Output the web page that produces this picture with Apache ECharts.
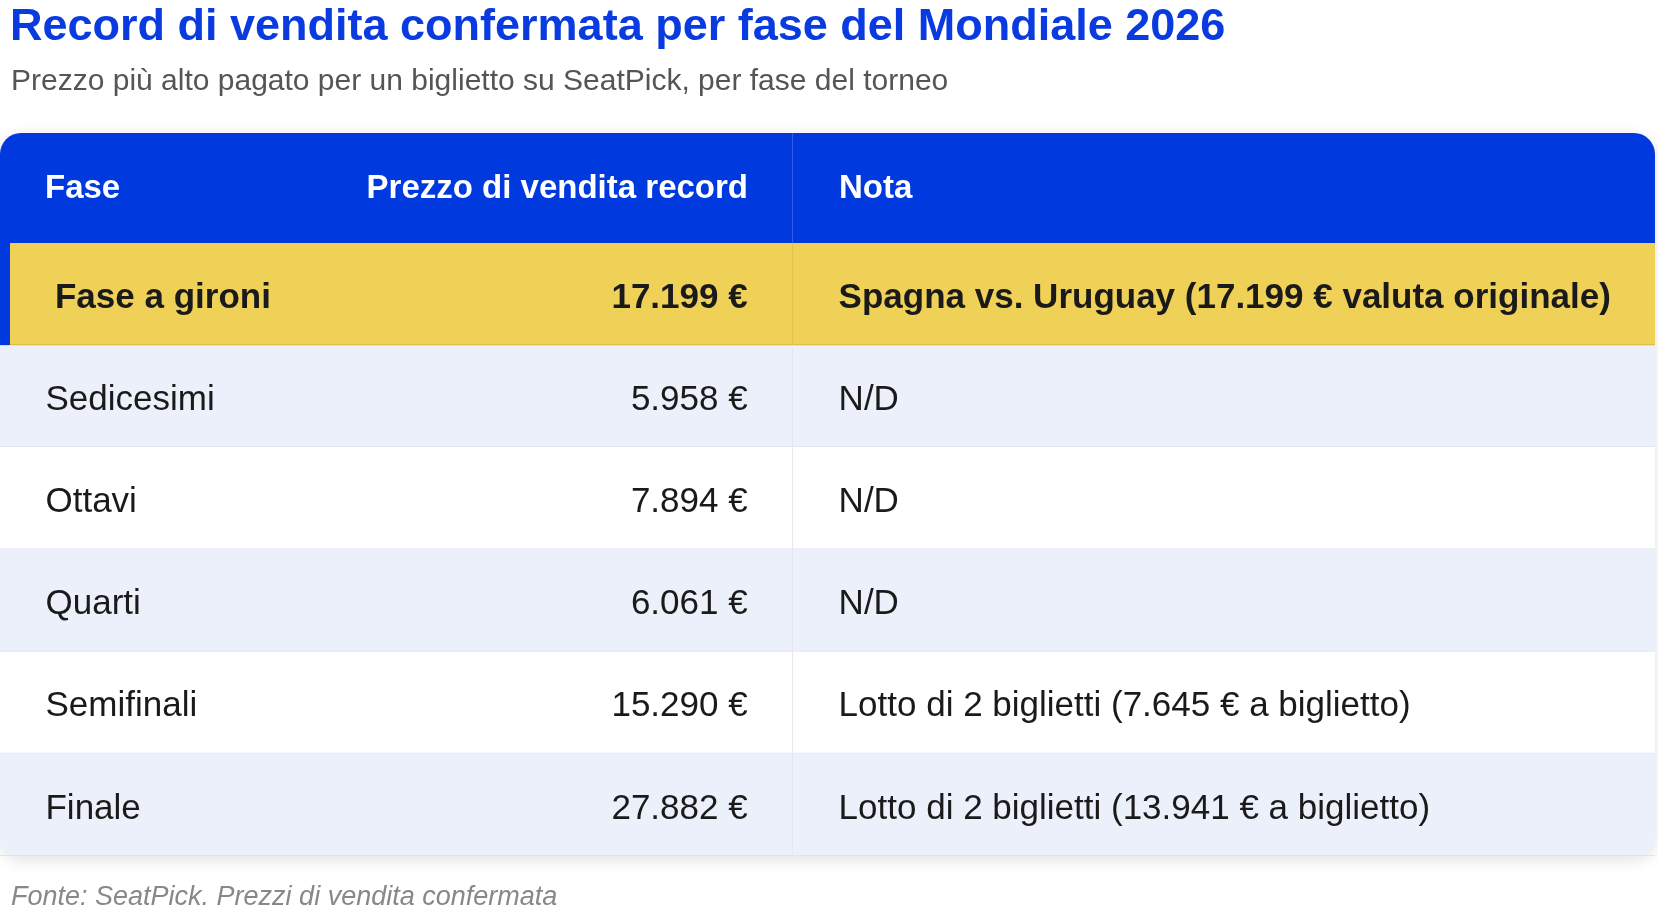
<!DOCTYPE html>
<html><head><meta charset="utf-8">
<script src="https://cdn.jsdelivr.net/npm/echarts@6/dist/echarts.min.js"></script>
<style>html,body{margin:0;padding:0;background:#fff}#c{width:1658px;height:913px}</style>
</head><body><div id="c"></div>
<script>
const headers = ['Fase', 'Prezzo di vendita record', 'Nota'];
const phases = ['Fase a gironi', 'Sedicesimi', 'Ottavi', 'Quarti', 'Semifinali', 'Finale'];
const prices = ['17.199 €', '5.958 €', '7.894 €', '6.061 €', '15.290 €', '27.882 €'];
const notes = ['Spagna vs. Uruguay (17.199 € valuta originale)', 'N/D', 'N/D', 'N/D',
  'Lotto di 2 biglietti (7.645 € a biglietto)', 'Lotto di 2 biglietti (13.941 € a biglietto)'];
const highlightIndex = 0;

const S = 1658 / 1568;
const s = v => Math.round(v * S);
const FONT = 'Liberation Sans, Arial, sans-serif';
const TW = 1565;
const chart = echarts.init(document.getElementById('c'));
chart.setOption({
  backgroundColor: '#fff',
  animation: false,
  title: [
    {text: 'Record di vendita confermata per fase del Mondiale 2026', left: s(5), top: s(0),
     textStyle: {fontFamily: FONT, fontSize: s(42.6), fontWeight: 'bold', color: '#0a3be0'}},
    {text: 'Prezzo più alto pagato per un biglietto su SeatPick, per fase del torneo', left: s(6), top: s(59),
     textStyle: {fontFamily: FONT, fontSize: s(28.3), fontWeight: 'normal', color: '#555'}},
    {text: 'Fonte: SeatPick. Prezzi di vendita confermata', left: s(6), top: s(831),
     textStyle: {fontFamily: FONT, fontSize: s(25.7), fontWeight: 'normal', fontStyle: 'italic', color: '#888'}}
  ],
  graphic: [
    {type: 'rect', left: 0, top: s(126), z: 0, shape: {width: s(TW), height: s(684), r: s(20)},
     style: {fill: '#fff', shadowBlur: 16, shadowColor: 'rgba(0,0,0,0.12)', shadowOffsetY: 4}},
    {type: 'rect', left: 0, top: s(126), z: 1, shape: {width: s(TW), height: s(104), r: [s(20), s(20), 0, 0]}, style: {fill: '#003ade'}},
    {type: 'rect', left: s(749), top: s(126), z: 2, shape: {width: 1, height: s(104)}, style: {fill: '#2f5fe6'}},
    {type: 'text', left: s(43), top: s(163), z: 3, style: {text: headers[0], font: 'bold ' + s(31.6) + 'px ' + FONT, fill: '#fff'}},
    {type: 'text', right: 1658 - s(707), top: s(163), z: 3, style: {text: headers[1], font: 'bold ' + s(31.6) + 'px ' + FONT, fill: '#fff', align: 'right'}},
    {type: 'text', left: s(793), top: s(163), z: 3, style: {text: headers[2], font: 'bold ' + s(31.6) + 'px ' + FONT, fill: '#fff'}}
  ],
  grid: {left: 0, right: 1658 - s(TW), top: s(230), bottom: 913 - s(810)},
  xAxis: {type: 'value', min: 0, max: TW, show: false},
  yAxis: {type: 'category', data: phases, inverse: true, show: false},
  series: [{
    type: 'custom', z: 5,
    data: phases.map((p, i) => [0, i]),
    renderItem: function (params, api) {
      const i = api.value(1);
      const p0 = api.coord([0, i]);
      const h = api.size([0, 1])[1];
      const top = p0[1] - h / 2;
      const ty = p0[1] + 4;
      const W = api.coord([TW, i])[0];
      const hl = i === highlightIndex;
      const last = i === phases.length - 1;
      const fill = hl ? '#f0d158' : (i % 2 === 1 ? '#ecf0fb' : '#ffffff');
      const fw = hl ? 'bold ' : '';
      const fs = s(33) + 'px ';
      const tc = '#1a1a1a';
      const children = [
        {type: 'rect', shape: {x: 0, y: top, width: W, height: h, r: last ? [0, 0, 16, 16] : 0}, style: {fill: fill}},
        {type: 'rect', shape: {x: 0, y: top + h - 1, width: W, height: hl ? 2 : 1}, style: {fill: hl ? '#d9b83a' : '#dfe3ee'}},
        {type: 'rect', shape: {x: api.coord([749, i])[0], y: top, width: 1, height: h}, style: {fill: hl ? '#e2c24a' : '#e3e7f0'}},
        {type: 'text', x: api.coord([hl ? 52 : 43, i])[0], y: ty, style: {text: phases[i], font: fw + fs + FONT, fill: tc, verticalAlign: 'middle'}},
        {type: 'text', x: api.coord([707, i])[0], y: ty, style: {text: prices[i], font: fw + fs + FONT, fill: tc, align: 'right', verticalAlign: 'middle'}},
        {type: 'text', x: api.coord([793, i])[0], y: ty, style: {text: notes[i], font: fw + fs + FONT, fill: tc, verticalAlign: 'middle'}}
      ];
      if (hl) children.push({type: 'rect', shape: {x: 0, y: top, width: s(9), height: h}, style: {fill: '#003ade'}});
      return {type: 'group', children: children};
    }
  }]
});
</script></body></html>
